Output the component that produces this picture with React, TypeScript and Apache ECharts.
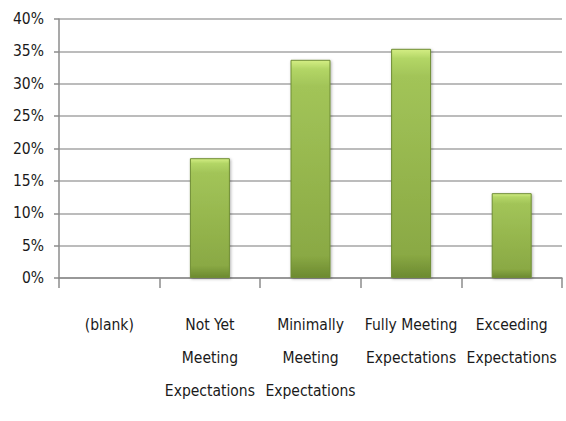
import React, { useEffect, useRef } from "react";
import * as echarts from "echarts";

const categories = [
  "(blank)",
  "Not Yet\nMeeting\nExpectations",
  "Minimally\nMeeting\nExpectations",
  "Fully Meeting\nExpectations",
  "Exceeding\nExpectations",
];
const values = [0, 18.5, 33.7, 35.4, 13.1];
const yTicks = { min: 0, max: 40, interval: 5 };

const FONT = '"DejaVu Sans Condensed", "Liberation Sans Narrow", "Liberation Sans", sans-serif';

export default function App() {
  const ref = useRef<HTMLDivElement>(null);
  useEffect(() => {
    if (!ref.current) return;
    const chart = echarts.init(ref.current, undefined, { renderer: "svg" });
    chart.setOption({
      animation: false,
      backgroundColor: "#ffffff",
      grid: { left: 59, right: 4, top: 19, bottom: 143, containLabel: false },
      xAxis: {
        type: "category",
        data: categories,
        axisLine: { show: true, lineStyle: { color: "#8c8c8c", width: 1.5 } },
        axisTick: { show: true, length: 10, alignWithLabel: false, lineStyle: { color: "#8c8c8c", width: 1.5 } },
        axisLabel: {
          interval: 0,
          margin: 30,
          color: "#1a1a1a",
          fontFamily: FONT,
          fontSize: 15.5,
          lineHeight: 33,
        },
      },
      yAxis: {
        type: "value",
        min: yTicks.min,
        max: yTicks.max,
        interval: yTicks.interval,
        axisLine: { show: true, lineStyle: { color: "#8c8c8c", width: 1.5 } },
        axisTick: { show: true, length: 5, lineStyle: { color: "#8c8c8c", width: 1.5 } },
        splitLine: { show: true, lineStyle: { color: "#a6a6a6", width: 1.5 } },
        axisLabel: {
          formatter: "{value}%",
          margin: 15,
          color: "#1a1a1a",
          fontFamily: FONT,
          fontSize: 15.5,
        },
      },
      series: [
        {
          type: "bar",
          data: values,
          barWidth: 40,
          itemStyle: {
            color: new echarts.graphic.LinearGradient(0, 0, 0, 1, [
              { offset: 0, color: "#d4ee84" },
              { offset: 0.04, color: "#b3d666" },
              { offset: 0.12, color: "#a2c458" },
              { offset: 0.9, color: "#8aa944" },
              { offset: 1, color: "#6c8a30" },
            ]),
            borderColor: "#6f8d34",
            borderWidth: 1,
            shadowColor: "rgba(0,0,0,0.3)",
            shadowBlur: 3,
            shadowOffsetX: 1,
            shadowOffsetY: 1,
          },
        },
      ],
    });
    return () => chart.dispose();
  }, []);
  return <div ref={ref} style={{ width: 566, height: 421, position: "absolute", left: 0, top: 0 }} />;
}
